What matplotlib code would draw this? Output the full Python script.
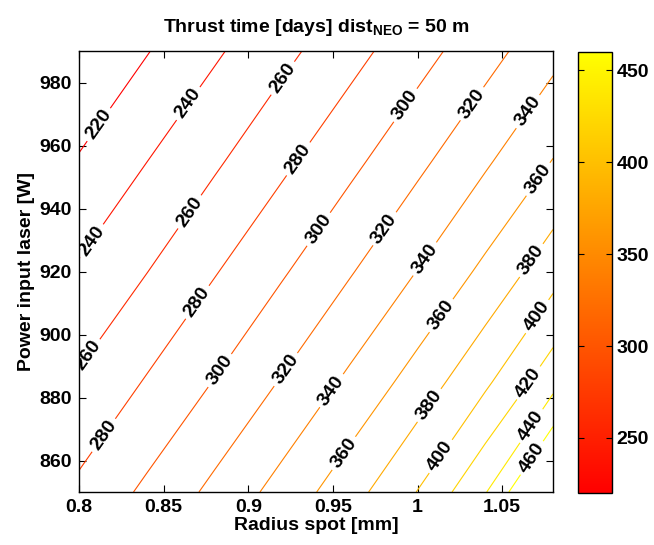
import matplotlib
matplotlib.use("Agg")
import matplotlib.pyplot as plt
import numpy as np

# grid of thrust time values [days]
radius_mm = [0.80, 0.84, 0.88, 0.92, 0.96, 1.00, 1.04, 1.08]
power_w = [850, 885, 920, 955, 990]
thrust_days = [
    [284.3, 303.8, 324.8, 347.4, 372.1, 400.6, 438.7, 500.0],  # 850 W
    [262.4, 281.5, 300.7, 321.5, 344.0, 368.3, 396.2, 432.6],  # 885 W
    [242.4, 259.6, 278.7, 297.9, 318.4, 340.5, 364.5, 391.9],  # 920 W
    [221.6, 239.8, 257.1, 275.9, 295.1, 315.4, 337.3, 360.7],  # 955 W
    [200.7, 219.0, 237.2, 254.6, 273.1, 292.3, 312.4, 334.0],  # 990 W
]
levels = [220, 240, 260, 280, 300, 320, 340, 360, 380, 400, 420, 440, 460]
cbar_ticks = [250, 300, 350, 400, 450]
x_ticks = [0.8, 0.85, 0.9, 0.95, 1.0, 1.05]
x_ticklabels = ["0.8", "0.85", "0.9", "0.95", "1", "1.05"]
y_ticks = [860, 880, 900, 920, 940, 960, 980]

# where the inline labels sit (roughly as in the reference)
label_spots = [
    (0.812, 966.5), (0.868, 972), (0.924, 980), (0.811, 928.4), (0.867, 938.3),
    (0.932, 954.8), (1.001, 969.7), (1.040, 970.3), (1.068, 969.7), (1.072, 949),
    (0.944, 932.5), (0.982, 933), (1.001, 925.2), (1.067, 923.6), (0.809, 891.9),
    (0.874, 908.7), (0.886, 887.5), (0.925, 887.8), (1.015, 905.6), (1.072, 905.2),
    (0.816, 867.5), (0.952, 881.1), (1.009, 876.7), (1.069, 883.3), (0.958, 861.7),
    (1.015, 860.8), (1.069, 870.3), (1.072, 859.2),
]

plt.rcParams['font.family'] = ['Liberation Sans', 'DejaVu Sans']
plt.rcParams['font.weight'] = 'bold'
plt.rcParams['font.size'] = 14
plt.rcParams['mathtext.fontset'] = 'custom'
plt.rcParams['mathtext.rm'] = 'Liberation Sans'
plt.rcParams['mathtext.bf'] = 'Liberation Sans:bold'

fig = plt.figure(figsize=(6.54, 5.45), dpi=100)
ax = fig.add_axes([0.1208, 0.0972, 0.7248, 0.8092])
cax = fig.add_axes([0.8838, 0.0954, 0.052, 0.8092])

X, Y = np.meshgrid(radius_mm, power_w)
Z = np.array(thrust_days)
norm = matplotlib.colors.Normalize(vmin=220, vmax=460)
cs = ax.contour(X, Y, Z, levels=levels, cmap='autumn', norm=norm, linewidths=0.8)
ax.clabel(cs, inline=True, inline_spacing=4, fontsize=14, colors='black', fmt='%d',
          manual=label_spots)

ax.set_xlim(0.8, 1.08)
ax.set_ylim(850, 990)
ax.set_xticks(x_ticks)
ax.set_xticklabels(x_ticklabels)
ax.set_yticks(y_ticks)
ax.tick_params(direction='in', top=True, right=True, length=5, labelsize=14, pad=5)
for s in ax.spines.values():
    s.set_linewidth(1.0)
ax.set_xlabel('Radius spot [mm]', fontsize=14, fontweight='bold', labelpad=1)
ax.set_ylabel('Power input laser [W]', fontsize=14, fontweight='bold', labelpad=3)
ax.set_title(r'Thrust time [days] dist$_{\mathbf{NEO}}$ = 50 m', fontsize=14,
             fontweight='bold', pad=14)

sm = matplotlib.cm.ScalarMappable(norm=norm, cmap='autumn')
cb = fig.colorbar(sm, cax=cax, ticks=cbar_ticks)
cb.outline.set_linewidth(1.0)
cax.tick_params(direction='in', left=True, right=True, length=4, labelsize=14)

fig.savefig('out.png', dpi=100)
